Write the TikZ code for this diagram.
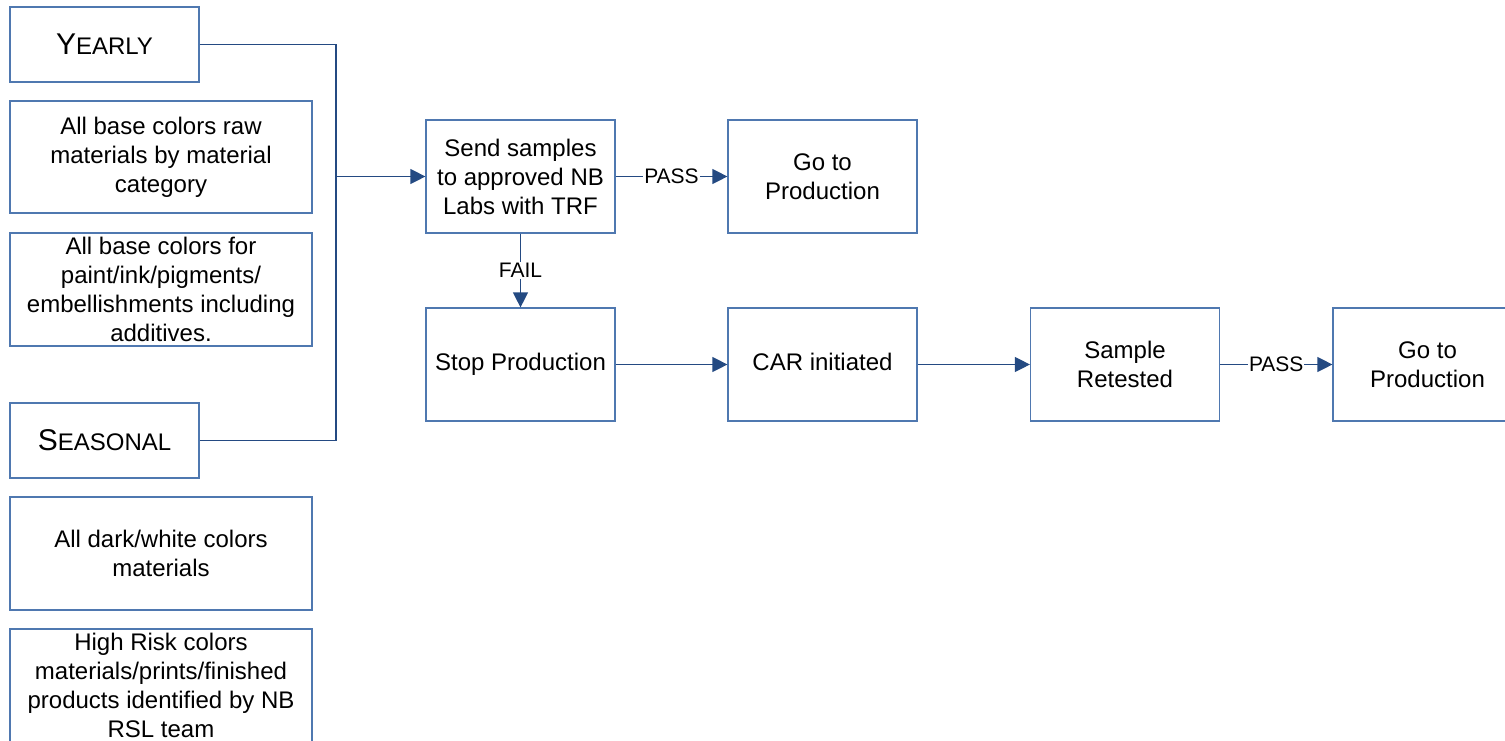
\documentclass[tikz,border=0pt]{standalone}
\usepackage{fontspec}
\setmainfont{Liberation Sans}
\usetikzlibrary{arrows.meta}
\definecolor{boxblue}{RGB}{79,120,176}
\definecolor{lineblue}{RGB}{36,74,130}
\begin{document}
\begin{tikzpicture}[x=1pt,y=-1pt,
  box/.style={draw=boxblue, line width=1.2pt, align=center, inner sep=0pt,
    font=\fontsize{24}{29}\selectfont, text=black},
  wbox/.style={box, minimum width=302pt, minimum height=113pt},
  sbox/.style={box, minimum width=189pt, minimum height=113pt},
  hbox/.style={box, minimum width=189pt, minimum height=75pt},
  conn/.style={draw=lineblue, line width=1.2pt},
  arr/.style={conn, -{Triangle[length=15pt,width=15pt]}},
  lbl/.style={fill=white, inner sep=1pt, font=\fontsize{21}{25}\selectfont}]
\useasboundingbox (0,0) rectangle (1505,740);
\node[hbox] (yearly) at (104.5,44.5) {{\fontsize{30}{36}\selectfont Y}EARLY};
\node[wbox, minimum height=112pt] (base1) at (161,157) {All base colors raw\\materials by material\\category};
\node[wbox] (base2) at (161,289.5) {All base colors for\\paint/ink/pigments/\\embellishments including\\additives.};
\node[hbox] (seasonal) at (104.5,440.5) {{\fontsize{30}{36}\selectfont S}EASONAL};
\node[wbox] (dark) at (161,553.5) {All dark/white colors\\materials};
\node[wbox] (risk) at (161,685.5) {High Risk colors\\materials/prints/finished\\products identified by NB\\RSL team};
\node[sbox] (send) at (520.5,176.5) {Send samples\\to approved NB\\Labs with TRF};
\node[sbox] (go1) at (822.5,176.5) {Go to\\Production};
\node[sbox] (stop) at (520.5,364.5) {\strut Stop Production};
\node[sbox] (car) at (822.5,364.5) {\strut CAR initiated};
\node[sbox] (retest) at (1125,364.5) {Sample\\Retested};
\node[sbox] (go2) at (1427.5,364.5) {Go to\\Production};
\coordinate (brk) at (336,176.5);
\draw[conn] (yearly.east) -| (brk) |- (seasonal.east);
\draw[arr] (brk) -- (send.west);
\draw[arr] (send.east) -- node[lbl] {PASS} (go1.west);
\draw[arr] (send.south) -- node[lbl] {FAIL} (stop.north);
\draw[arr] (stop.east) -- (car.west);
\draw[arr] (car.east) -- (retest.west);
\draw[arr] (retest.east) -- node[lbl] {PASS} (go2.west);
\end{tikzpicture}
\end{document}
